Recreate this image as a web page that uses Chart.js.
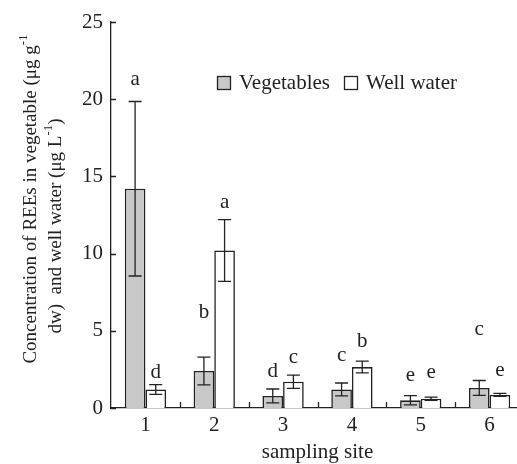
<!DOCTYPE html>
<html>
<head>
<meta charset="utf-8">
<script src="https://cdn.jsdelivr.net/npm/chart.js@4.4.1/dist/chart.umd.min.js"></script>
<style>
html,body{margin:0;padding:0;background:#fff;overflow:hidden;}
#wrap{position:relative;width:528px;height:467px;}
</style>
</head>
<body>
<div id="wrap"><canvas id="c" width="528" height="467"></canvas></div>
<script>
const sites = ['1','2','3','4','5','6'];
const vegMean = [14.2, 2.4, 0.78, 1.2, 0.5, 1.3];
const vegErr = [5.65, 0.9, 0.45, 0.42, 0.3, 0.48];
const waterMean = [1.2, 10.2, 1.7, 2.65, 0.6, 0.85];
const waterErr = [0.32, 2.0, 0.43, 0.38, 0.1, 0.1];
const vegLetters = ['a','b','d','c','e','c'];
const waterLetters = ['d','a','c','b','e','e'];
const vegLetterY = [21.3, 6.2, 2.35, 3.4, 2.1, 5.1];
const waterLetterY = [2.27, 13.3, 3.3, 4.3, 2.3, 2.46];
const yTicks = [0, 5, 10, 15, 20, 25];
const seriesNames = ['Vegetables', 'Well water'];

const FONT = '"Liberation Serif", "Times New Roman", serif';
const FS = 21;
const TFS = 19;

const extras = {
  id: 'extras',
  afterDatasetsDraw(chart) {
    const ctx = chart.ctx;
    const y = chart.scales.y, x = chart.scales.x;
    const errs = [vegErr, waterErr];
    const letters = [vegLetters, waterLetters];
    const letterY = [vegLetterY, waterLetterY];
    ctx.save();
    ctx.strokeStyle = '#222';
    ctx.lineWidth = 1.3;
    chart.data.datasets.forEach((ds, i) => {
      const meta = chart.getDatasetMeta(i);
      meta.data.forEach((el, j) => {
        const m = ds.data[j], e = errs[i][j];
        const yt = y.getPixelForValue(m + e), yb = y.getPixelForValue(Math.max(0, m - e));
        const cx = el.x;
        ctx.beginPath();
        ctx.moveTo(cx, yt); ctx.lineTo(cx, yb);
        ctx.moveTo(cx - 6.5, yt); ctx.lineTo(cx + 6.5, yt);
        ctx.moveTo(cx - 6.5, yb); ctx.lineTo(cx + 6.5, yb);
        ctx.stroke();
        ctx.fillStyle = '#222';
        ctx.font = FS + 'px ' + FONT;
        ctx.textAlign = 'center';
        ctx.textBaseline = 'middle';
        ctx.fillText(letters[i][j], cx, y.getPixelForValue(letterY[i][j]));
      });
    });
    // inward y ticks
    ctx.beginPath();
    y.ticks.forEach(t => {
      const py = Math.round(y.getPixelForValue(t.value)) + 0.5;
      ctx.moveTo(y.right, py); ctx.lineTo(y.right + 5, py);
    });
    // inward x ticks between categories
    for (let i = 1; i < sites.length; i++) {
      const px = Math.round((x.getPixelForValue(i - 1) + x.getPixelForValue(i)) / 2) + 0.5;
      ctx.moveTo(px, x.top); ctx.lineTo(px, x.top - 6);
    }
    ctx.stroke();

    // legend
    const lg = [{fill:'#c8c8c8', x:217, text:seriesNames[0]}, {fill:'#ffffff', x:344, text:seriesNames[1]}];
    ctx.font = FS + 'px ' + FONT;
    ctx.textAlign = 'left';
    ctx.textBaseline = 'alphabetic';
    lg.forEach(it => {
      ctx.fillStyle = it.fill;
      ctx.fillRect(it.x, 76.5, 13, 13);
      ctx.lineWidth = 1.3;
      ctx.strokeRect(it.x + 0.5, 76.5, 13, 13);
      ctx.fillStyle = '#222';
      ctx.fillText(it.text, it.x + 22, 89);
    });

    // y-axis title (two lines, rotated)
    function drawLine(parts, bx, cy) {
      ctx.save();
      ctx.translate(bx, cy);
      ctx.rotate(-Math.PI / 2);
      let w = 0;
      parts.forEach(p => { ctx.font = (p.sup ? 13 : TFS) + 'px ' + FONT; w += ctx.measureText(p.t).width; });
      let cur = -w / 2;
      ctx.textAlign = 'left';
      ctx.textBaseline = 'alphabetic';
      ctx.fillStyle = '#222';
      parts.forEach(p => {
        ctx.font = (p.sup ? 13 : TFS) + 'px ' + FONT;
        ctx.fillText(p.t, cur, p.sup ? -9 : 0);
        cur += ctx.measureText(p.t).width;
      });
      ctx.restore();
    }
    drawLine([{t:'Concentration of REEs in vegetable (\u03bcg g'}, {t:'-1', sup:true}], 36, 199);
    drawLine([{t:'dw)  and well water (\u03bcg L'}, {t:'-1', sup:true}, {t:')'}], 61, 226);
    ctx.restore();
  }
};

new Chart(document.getElementById('c'), {
  type: 'bar',
  data: {
    labels: sites,
    datasets: [
      {label: seriesNames[0], data: vegMean, backgroundColor: '#c8c8c8', borderColor: '#222', borderWidth: 1.6},
      {label: seriesNames[1], data: waterMean, backgroundColor: '#ffffff', borderColor: '#222', borderWidth: 1.6}
    ]
  },
  options: {
    responsive: false,
    animation: false,
    devicePixelRatio: 1,
    layout: {padding: {top: 22, right: 4, left: 0, bottom: 0}},
    datasets: {bar: {categoryPercentage: 0.6, barPercentage: 1.0}},
    plugins: {legend: {display: false}, tooltip: {enabled: false}},
    scales: {
      x: {
        grid: {display: false, drawTicks: false},
        border: {display: true, color: '#222', width: 1.3},
        ticks: {color: '#222', font: {family: FONT, size: FS}, padding: 5},
        title: {display: true, text: 'sampling site', color: '#222', font: {family: FONT, size: FS}, padding: {top: 2, bottom: 2}},
        afterFit(s) { s.height = 59; }
      },
      y: {
        min: 0, max: 25,
        afterBuildTicks(s) { s.ticks = yTicks.map(v => ({value: v})); },
        grid: {display: false, drawTicks: false},
        border: {display: true, color: '#222', width: 1.3},
        ticks: {color: '#222', font: {family: FONT, size: FS}, padding: 8},
        afterFit(s) { s.width = 111; }
      }
    }
  },
  plugins: [extras]
});
</script>
</body>
</html>
